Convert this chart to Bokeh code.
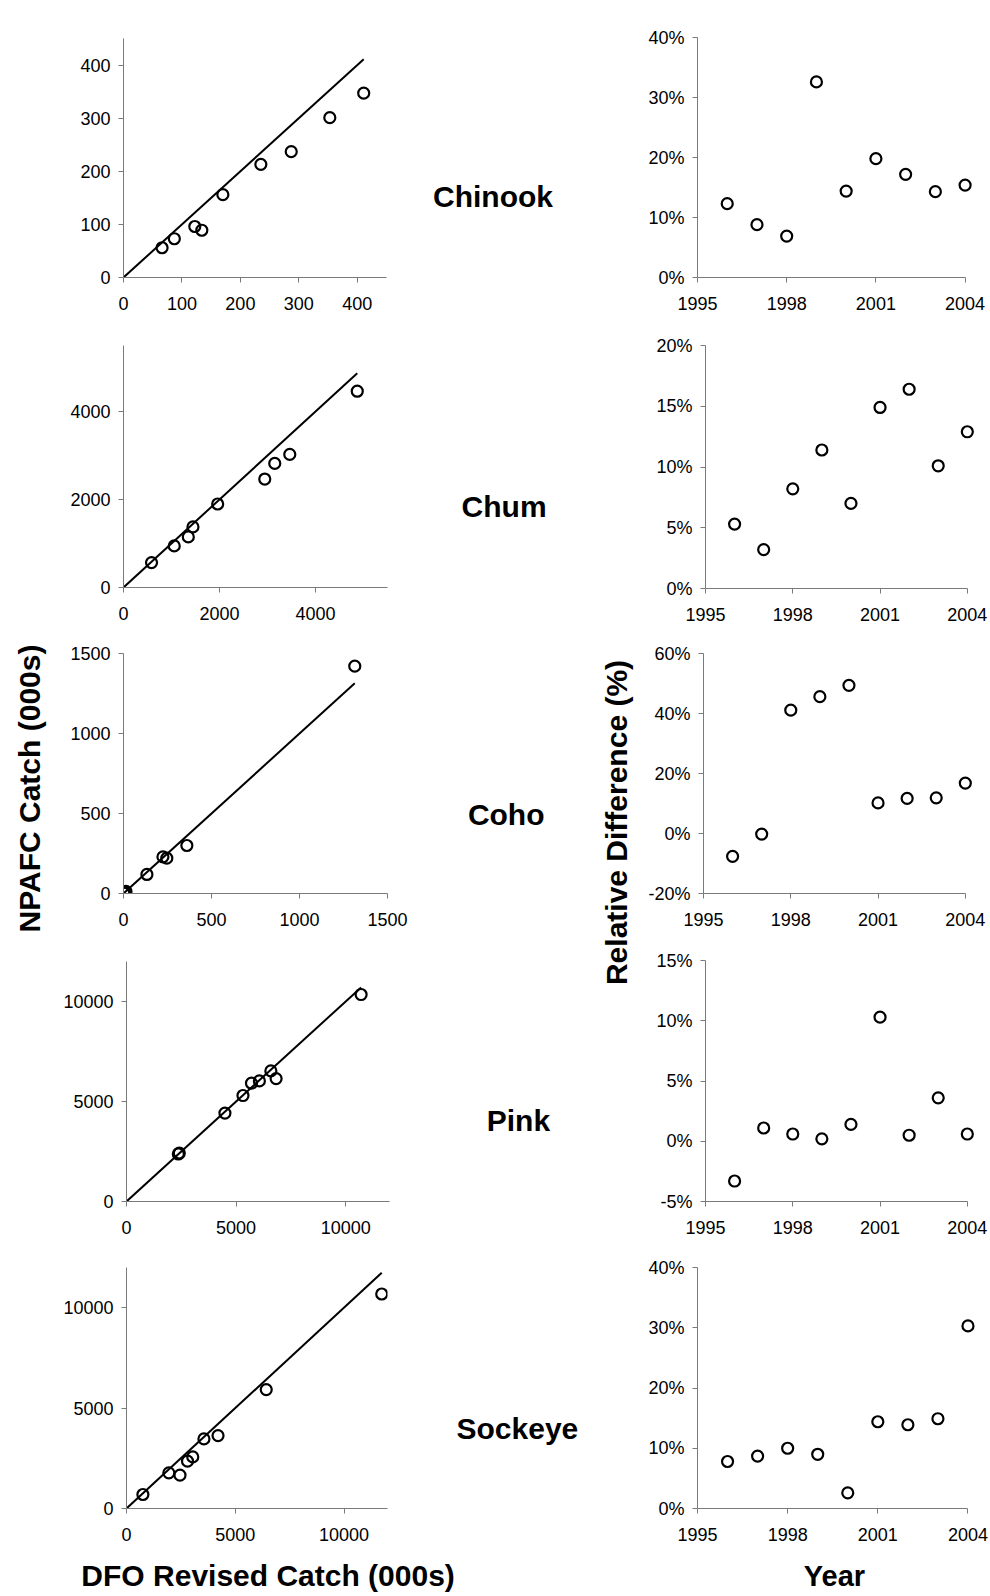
import numpy as np
from bokeh.plotting import figure
from bokeh.layouts import row, column
from bokeh.models import Range1d, FixedTicker, PrintfTickFormatter, Label
from bokeh.embed import file_html
from bokeh.resources import INLINE

# ---------------- data ----------------
species = ["Chinook", "Chum", "Coho", "Pink", "Sockeye"]
years = [1996, 1997, 1998, 1999, 2000, 2001, 2002, 2003, 2004]

chinook_dfo = [66, 87, 122, 134, 170, 235, 287, 353, 411]
chinook_npafc = [56, 73, 96, 89, 156, 213, 237, 301, 347]
chum_dfo = [584, 1057, 1350, 1447, 1962, 2943, 3151, 3464, 4870]
chum_npafc = [567, 945, 1149, 1376, 1898, 2465, 2820, 3025, 4461]
coho_dfo = [2, 5, 9, 14, 133, 224, 246, 360, 1314]
coho_npafc = [2, 5, 9, 13, 119, 229, 221, 300, 1421]
pink_dfo = [2365, 2410, 4491, 5314, 5703, 6063, 6587, 6826, 10704]
pink_npafc = [2375, 2425, 4419, 5299, 5914, 6030, 6528, 6146, 10349]
sockeye_dfo = [754, 1946, 2459, 2805, 3047, 3560, 4208, 6425, 11735]
sockeye_npafc = [697, 1774, 1658, 2355, 2570, 3466, 3632, 5920, 10680]

chinook_diff = [12.3, 8.8, 6.9, 32.6, 14.4, 19.8, 17.2, 14.3, 15.4]
chum_diff = [5.3, 3.2, 8.2, 11.4, 7.0, 14.9, 16.4, 10.1, 12.9]
coho_diff = [-7.6, -0.2, 41.1, 45.6, 49.4, 10.2, 11.7, 11.9, 16.8]
pink_diff = [-3.3, 1.1, 0.6, 0.2, 1.4, 10.3, 0.5, 3.6, 0.6]
sockeye_diff = [7.8, 8.7, 10.0, 9.0, 2.6, 14.4, 13.9, 14.9, 30.3]

catch_limits = [450, 5500, 1500, 12000, 12000]
catch_ticks = [[0, 100, 200, 300, 400], [0, 2000, 4000], [0, 500, 1000, 1500],
               [0, 5000, 10000], [0, 5000, 10000]]
diff_limits = [(0, 40), (0, 20), (-20, 60), (-5, 15), (0, 40)]
diff_ticks = [[0, 10, 20, 30, 40], [0, 5, 10, 15, 20], [-20, 0, 20, 40, 60],
              [-5, 0, 5, 10, 15], [0, 10, 20, 30, 40]]
year_ticks = [1995, 1998, 2001, 2004]

dfo = [chinook_dfo, chum_dfo, coho_dfo, pink_dfo, sockeye_dfo]
npafc = [chinook_npafc, chum_npafc, coho_npafc, pink_npafc, sockeye_npafc]
diffs = [chinook_diff, chum_diff, coho_diff, pink_diff, sockeye_diff]

# ---------------- layout (page pixel positions) ----------------
FONT = "Liberation Sans"
TICK = "18px"
AXC = "#7a7a7a"

A_W = 60
B_X0, B_W = 60, 360
C_X0, C_W = 420, 220
D_X0, D_W = 640, 350
row_tops = [0, 320, 630, 935, 1245]
row_h = [320, 310, 305, 310, 305]
left_frames = [(123.3, 386.0, 38.0, 276.7), (123.3, 386.7, 345.0, 586.7),
               (123.3, 387.3, 653.3, 893.3), (122.3, 389.3, 960.7, 1201.0),
               (122.3, 387.3, 1267.3, 1508.3)]
right_frames = [(696.7, 965.0, 37.3, 277.3), (705.0, 967.0, 345.0, 588.3),
                (703.3, 965.0, 653.3, 893.3), (705.0, 967.0, 960.0, 1201.3),
                (696.7, 967.0, 1267.3, 1508.3)]
YEAR_PAD = 0.35


def style(p, xticks, yticks, fmt_x, fmt_y):
    for ax in (p.xaxis[0], p.yaxis[0]):
        ax.axis_line_color = AXC
        ax.axis_line_width = 1
        ax.major_tick_line_color = AXC
        ax.major_tick_in = 0
        ax.major_tick_out = 5
        ax.minor_tick_line_color = None
        ax.major_label_text_font = FONT
        ax.major_label_text_font_size = TICK
        ax.major_label_text_color = "#000000"
    p.xaxis[0].major_label_standoff = 14
    p.yaxis[0].major_label_standoff = 8
    p.xaxis[0].ticker = FixedTicker(ticks=xticks)
    p.yaxis[0].ticker = FixedTicker(ticks=yticks)
    p.xaxis[0].formatter = fmt_x
    p.yaxis[0].formatter = fmt_y
    p.xgrid.grid_line_color = None
    p.ygrid.grid_line_color = None
    p.outline_line_color = None
    p.background_fill_color = "white"
    p.border_fill_color = "white"


left_col, right_col = [], []
for i in range(5):
    top, h = row_tops[i], row_h[i]
    # left: catch comparison
    l, r, t, b = left_frames[i]
    lim = catch_limits[i]
    p = figure(width=B_W, height=h, x_range=Range1d(0, lim), y_range=Range1d(0, lim),
               toolbar_location=None, output_backend="svg",
               min_border_left=int(round(l - B_X0)), min_border_right=int(round(B_X0 + B_W - r)),
               min_border_top=int(round(t - top)), min_border_bottom=int(round(top + h - b)))
    m = max(dfo[i])
    p.line([0, m], [0, m], line_color="black", line_width=2)
    p.scatter(dfo[i], npafc[i], marker="circle", size=11, line_color="black",
              line_width=2.2, fill_color=None)
    style(p, catch_ticks[i], catch_ticks[i], PrintfTickFormatter(format="%d"),
          PrintfTickFormatter(format="%d"))
    left_col.append(row(p))

    # right: relative difference by year
    l, r, t, b = right_frames[i]
    y0, y1 = diff_limits[i]
    fr = r + YEAR_PAD * (r - l) / 9.0
    q = figure(width=D_W, height=h, x_range=Range1d(1995, 2004 + YEAR_PAD),
               y_range=Range1d(y0, y1), toolbar_location=None, output_backend="svg",
               min_border_left=int(round(l - D_X0)), min_border_right=int(round(D_X0 + D_W - fr)),
               min_border_top=int(round(t - top)), min_border_bottom=int(round(top + h - b)))
    q.scatter(years, diffs[i], marker="circle", size=11, line_color="black",
              line_width=2.2, fill_color=None)
    style(q, year_ticks, diff_ticks[i], PrintfTickFormatter(format="%d"),
          PrintfTickFormatter(format="%d%%"))
    q.xaxis[0].bounds = (1995, 2004)
    right_col.append(row(q))

TOTAL_H = sum(row_h)


def blank(w, h):
    f = figure(width=w, height=h, x_range=Range1d(0, w), y_range=Range1d(h, 0),
               toolbar_location=None, output_backend="svg", x_axis_type=None,
               y_axis_type=None, min_border=0)
    f.xgrid.grid_line_color = None
    f.ygrid.grid_line_color = None
    f.outline_line_color = None
    return f


def add_label(f, x, y, text, size, angle=0.0):
    f.add_layout(Label(x=x, y=y, text=text, text_font=FONT, text_font_size=size,
                       text_font_style="bold", text_align="center", text_baseline="middle",
                       text_color="black", angle=angle))


A = blank(A_W, TOTAL_H)
add_label(A, 28.5, 788, "NPAFC Catch (000s)", "30px", np.pi / 2)

C = blank(C_W, TOTAL_H)
species_pos = [(492.5, 196.4), (503.6, 505.7), (505.7, 814.0), (517.9, 1120.2), (516.9, 1427.5)]
for name, (sx, sy) in zip(species, species_pos):
    add_label(C, sx - C_X0, sy, name, "30px")
add_label(C, 615.6 - C_X0, 822, "Relative Difference (%)", "30px", np.pi / 2)

bottom_h = 1596 - TOTAL_H
Bt = blank(990, bottom_h)
add_label(Bt, 267.6, 1575 - TOTAL_H, "DFO Revised Catch (000s)", "30px")
add_label(Bt, 834, 1575 - TOTAL_H, "Year", "29px")

layout = column(row(A, column(*left_col), C, column(*right_col)), Bt)

open("out.html", "w").write(file_html(layout, INLINE))
